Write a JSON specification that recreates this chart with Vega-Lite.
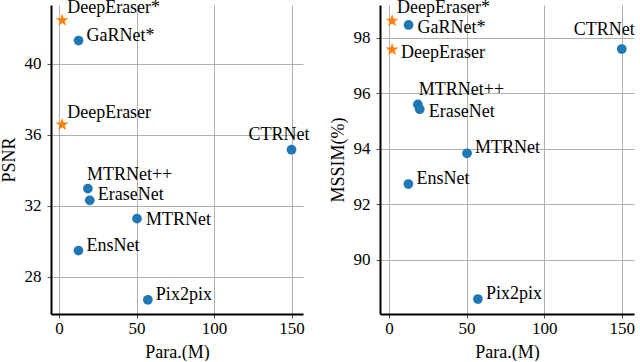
{
  "$schema": "https://vega.github.io/schema/vega-lite/v6.json",
  "padding": {"left": 0, "top": -2, "right": 0, "bottom": 0},
  "spacing": 19,
  "config": {
    "view": {"stroke": null},
    "font": "Liberation Serif",
    "axis": {
      "grid": true,
      "gridColor": "#b0b0b0",
      "domainColor": "#000000",
      "domainWidth": 2,
      "tickColor": "#555555",
      "tickSize": 4,
      "labelFont": "Liberation Serif",
      "labelFontSize": 17,
      "labelColor": "#000000",
      "titleFont": "Liberation Serif",
      "titleFontSize": 18,
      "titleFontWeight": "normal",
      "titleColor": "#000000"
    }
  },
  "hconcat": [
    {
      "width": 252,
      "height": 309,
      "data": {"values": [
        {"name": "DeepEraser*", "family": "DeepEraser", "params": 2, "psnr": 42.44, "ssim": 98.62},
        {"name": "GaRNet*", "family": "Other", "params": 12.6, "psnr": 41.3, "ssim": 98.47},
        {"name": "DeepEraser", "family": "DeepEraser", "params": 2, "psnr": 36.56, "ssim": 97.58},
        {"name": "CTRNet", "family": "Other", "params": 150, "psnr": 35.15, "ssim": 97.6},
        {"name": "MTRNet++", "family": "Other", "params": 18.6, "psnr": 32.96, "ssim": 95.6},
        {"name": "EraseNet", "family": "Other", "params": 19.8, "psnr": 32.3, "ssim": 95.43},
        {"name": "MTRNet", "family": "Other", "params": 50.3, "psnr": 31.27, "ssim": 93.84},
        {"name": "EnsNet", "family": "Other", "params": 12.5, "psnr": 29.47, "ssim": 92.73},
        {"name": "Pix2pix", "family": "Other", "params": 57.3, "psnr": 26.7, "ssim": 88.58}
      ]},
      "encoding": {
        "x": {"field": "params", "type": "quantitative", "scale": {"domain": [-5.2, 157.4], "nice": false, "zero": false}, "axis": {"title": "Para.(M)", "values": [0, 50, 100, 150], "labelPadding": 2, "titlePadding": 7}},
        "y": {"field": "psnr", "type": "quantitative", "scale": {"domain": [25.9, 43.3], "nice": false, "zero": false}, "axis": {"title": "PSNR", "values": [28, 32, 36, 40], "labelPadding": 6, "titlePadding": 6}}
      },
      "layer": [
        {"transform": [{"filter": "datum.family == 'Other'"}], "mark": {"type": "point", "shape": "circle", "filled": true, "size": 95, "color": "#1f77b4", "opacity": 1}},
        {"transform": [{"filter": "datum.family == 'DeepEraser'"}], "mark": {"type": "point", "shape": "M0,-1L0.2245,-0.309L0.9511,-0.309L0.3633,0.118L0.5878,0.809L0,0.382L-0.5878,0.809L-0.3633,0.118L-0.9511,-0.309L-0.2245,-0.309Z", "filled": true, "size": 190, "color": "#ff7f0e", "opacity": 1}},
        {"transform": [{"filter": {"field": "name", "oneOf": ["DeepEraser*", "DeepEraser"]}}], "mark": {"type": "text", "font": "Liberation Serif", "align": "left", "baseline": "alphabetic", "dx": 5, "dy": -7, "fontSize": 18, "color": "#000000"}, "encoding": {"text": {"field": "name"}}},
        {"transform": [{"filter": {"field": "name", "oneOf": ["GaRNet*", "EraseNet", "EnsNet", "Pix2pix"]}}], "mark": {"type": "text", "font": "Liberation Serif", "align": "left", "baseline": "alphabetic", "dx": 8, "dy": 0, "fontSize": 18, "color": "#000000"}, "encoding": {"text": {"field": "name"}}},
        {"transform": [{"filter": {"field": "name", "oneOf": ["MTRNet"]}}], "mark": {"type": "text", "font": "Liberation Serif", "align": "left", "baseline": "alphabetic", "dx": 9, "dy": 6, "fontSize": 18, "color": "#000000"}, "encoding": {"text": {"field": "name"}}},
        {"transform": [{"filter": {"field": "name", "oneOf": ["MTRNet++"]}}], "mark": {"type": "text", "font": "Liberation Serif", "align": "left", "baseline": "alphabetic", "dx": -1, "dy": -9, "fontSize": 18, "color": "#000000"}, "encoding": {"text": {"field": "name"}}},
        {"transform": [{"filter": {"field": "name", "oneOf": ["CTRNet"]}}], "mark": {"type": "text", "font": "Liberation Serif", "align": "right", "baseline": "alphabetic", "dx": 18, "dy": -10, "fontSize": 18, "color": "#000000"}, "encoding": {"text": {"field": "name"}}}
      ]
    },
    {
      "width": 254,
      "height": 309,
      "data": {"values": [
        {"name": "DeepEraser*", "family": "DeepEraser", "params": 2, "psnr": 42.44, "ssim": 98.62},
        {"name": "GaRNet*", "family": "Other", "params": 12.6, "psnr": 41.3, "ssim": 98.47},
        {"name": "DeepEraser", "family": "DeepEraser", "params": 2, "psnr": 36.56, "ssim": 97.58},
        {"name": "CTRNet", "family": "Other", "params": 150, "psnr": 35.15, "ssim": 97.6},
        {"name": "MTRNet++", "family": "Other", "params": 18.6, "psnr": 32.96, "ssim": 95.6},
        {"name": "EraseNet", "family": "Other", "params": 19.8, "psnr": 32.3, "ssim": 95.43},
        {"name": "MTRNet", "family": "Other", "params": 50.3, "psnr": 31.27, "ssim": 93.84},
        {"name": "EnsNet", "family": "Other", "params": 12.5, "psnr": 29.47, "ssim": 92.73},
        {"name": "Pix2pix", "family": "Other", "params": 57.3, "psnr": 26.7, "ssim": 88.58}
      ]},
      "encoding": {
        "x": {"field": "params", "type": "quantitative", "scale": {"domain": [-5.8, 157.9], "nice": false, "zero": false}, "axis": {"title": "Para.(M)", "values": [0, 50, 100, 150], "labelPadding": 2, "titlePadding": 7}},
        "y": {"field": "ssim", "type": "quantitative", "scale": {"domain": [88.04, 99.19], "nice": false, "zero": false}, "axis": {"title": "MSSIM(%)", "values": [90, 92, 94, 96, 98], "labelPadding": 6, "titlePadding": 6}}
      },
      "layer": [
        {"transform": [{"filter": "datum.family == 'Other'"}], "mark": {"type": "point", "shape": "circle", "filled": true, "size": 95, "color": "#1f77b4", "opacity": 1}},
        {"transform": [{"filter": "datum.family == 'DeepEraser'"}], "mark": {"type": "point", "shape": "M0,-1L0.2245,-0.309L0.9511,-0.309L0.3633,0.118L0.5878,0.809L0,0.382L-0.5878,0.809L-0.3633,0.118L-0.9511,-0.309L-0.2245,-0.309Z", "filled": true, "size": 190, "color": "#ff7f0e", "opacity": 1}},
        {"transform": [{"filter": {"field": "name", "oneOf": ["DeepEraser*"]}}], "mark": {"type": "text", "font": "Liberation Serif", "align": "left", "baseline": "alphabetic", "dx": 5, "dy": -8, "fontSize": 18, "color": "#000000"}, "encoding": {"text": {"field": "name"}}},
        {"transform": [{"filter": {"field": "name", "oneOf": ["MTRNet++"]}}], "mark": {"type": "text", "font": "Liberation Serif", "align": "left", "baseline": "alphabetic", "dx": 1, "dy": -9, "fontSize": 18, "color": "#000000"}, "encoding": {"text": {"field": "name"}}},
        {"transform": [{"filter": {"field": "name", "oneOf": ["GaRNet*", "DeepEraser", "EraseNet"]}}], "mark": {"type": "text", "font": "Liberation Serif", "align": "left", "baseline": "alphabetic", "dx": 9, "dy": 8, "fontSize": 18, "color": "#000000"}, "encoding": {"text": {"field": "name"}}},
        {"transform": [{"filter": {"field": "name", "oneOf": ["MTRNet", "EnsNet", "Pix2pix"]}}], "mark": {"type": "text", "font": "Liberation Serif", "align": "left", "baseline": "alphabetic", "dx": 8, "dy": 0, "fontSize": 18, "color": "#000000"}, "encoding": {"text": {"field": "name"}}},
        {"transform": [{"filter": {"field": "name", "oneOf": ["CTRNet"]}}], "mark": {"type": "text", "font": "Liberation Serif", "align": "right", "baseline": "alphabetic", "dx": 13, "dy": -14, "fontSize": 18, "color": "#000000"}, "encoding": {"text": {"field": "name"}}}
      ]
    }
  ]
}
